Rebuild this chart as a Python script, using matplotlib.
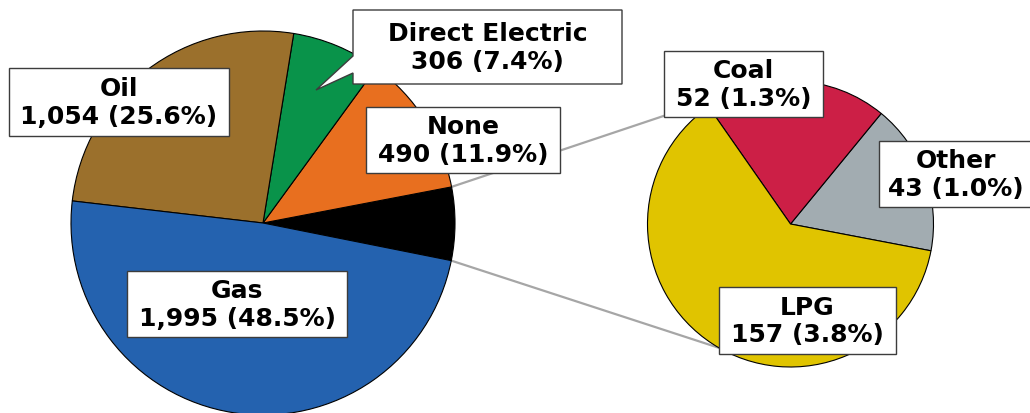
import numpy as np
import matplotlib
matplotlib.use("Agg")
import matplotlib.pyplot as plt
from matplotlib.patches import Rectangle, Polygon

# main pie (counterclockwise from the split wedge)
main_labels = ["None", "Direct Electric", "Oil", "Gas"]
main_values = [490, 306, 1054, 1995]
main_pcts = [11.9, 7.4, 25.6, 48.5]
main_colors = ["#E86F1F", "#09934A", "#9B702C", "#2462AF"]

# split-out pie
sub_labels = ["Other", "Coal", "LPG"]
sub_values = [43, 52, 157]
sub_pcts = [1.0, 1.3, 3.8]
sub_colors = ["#A2ACB1", "#CC1F46", "#E0C400"]
split_color = "#000000"

W, H = 1030, 414
fig = plt.figure(figsize=(W / 100, H / 100), dpi=100)
ax = fig.add_axes([0, 0, 1, 1])

def py(y):
    # pixel row (top down) -> data y
    return H - y

main_c = (263, py(224))
main_r = 192
sub_c = (790.5, py(225))
sub_r = 143

wedge_kw = dict(edgecolor="black", linewidth=0.8)
all_main = [sum(sub_values)] + main_values
w_main, _ = ax.pie(all_main, colors=[split_color] + main_colors,
                   center=main_c, radius=main_r, startangle=-11.3,
                   counterclock=True, wedgeprops=wedge_kw, frame=True)
w_sub, _ = ax.pie(sub_values, colors=sub_colors, center=sub_c, radius=sub_r,
                  startangle=-10.8, counterclock=True, wedgeprops=wedge_kw,
                  frame=True)

# connector lines from the split wedge to the second pie
sw = w_main[0]
for a_main, a_sub in [(sw.theta2, 112), (sw.theta1, 240)]:
    x0 = main_c[0] + main_r * np.cos(np.radians(a_main))
    y0 = main_c[1] + main_r * np.sin(np.radians(a_main))
    x1 = sub_c[0] + sub_r * np.cos(np.radians(a_sub))
    y1 = sub_c[1] + sub_r * np.sin(np.radians(a_sub))
    ax.plot([x0, x1], [y0, y1], color="#A6A6A6", lw=1.6, zorder=0.5)

def label_box(x0, y0, x1, y1, text, pointer=None):
    if pointer is None:
        ax.add_patch(Rectangle((x0, py(y1)), x1 - x0, y1 - y0, facecolor="white",
                               edgecolor="#3C3C3C", lw=1.0, zorder=3))
    else:
        (ya, tx, ty, yb) = pointer
        pts = [(x0, y0), (x1, y0), (x1, y1), (x0, y1), (x0, yb), (tx, ty), (x0, ya)]
        ax.add_patch(Polygon([(x, py(y)) for x, y in pts], closed=True,
                             facecolor="white", edgecolor="#3C3C3C", lw=1.0, zorder=3))
    ax.text((x0 + x1) / 2, py((y0 + y1) / 2), text, ha="center", va="center",
            fontsize=18, fontweight="bold", linespacing=1.2, zorder=4,
            family="DejaVu Sans")

def fmt(name, v, p):
    return f"{name}\n{v:,} ({p:.1f}%)"

main_boxes = [(366, 108, 560, 174, None),
              (353, 11, 622, 85, (57, 316, 91, 74)),
              (9, 69, 229, 137, None),
              (127, 272, 347, 338, None)]
for lab, v, p, (x0, y0, x1, y1, ptr) in zip(main_labels, main_values, main_pcts, main_boxes):
    label_box(x0, y0, x1, y1, fmt(lab, v, p), ptr)

sub_boxes = [(879, 142, 1032, 208), (664, 52, 823, 118), (719, 288, 896, 355)]
for lab, v, p, (x0, y0, x1, y1) in zip(sub_labels, sub_values, sub_pcts, sub_boxes):
    label_box(x0, y0, x1, y1, fmt(lab, v, p))

ax.set_xlim(0, W)
ax.set_ylim(0, H)
ax.set_aspect("equal")
ax.axis("off")
fig.savefig("out.png", dpi=100, facecolor="white")
